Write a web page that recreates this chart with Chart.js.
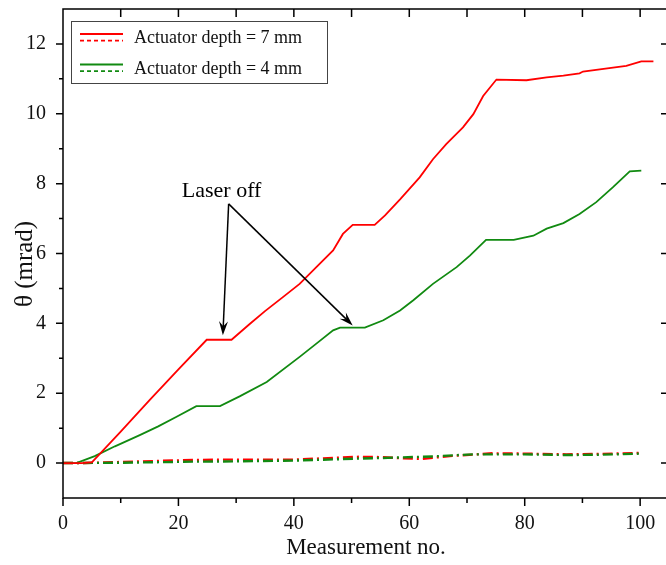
<!DOCTYPE html>
<html>
<head>
<meta charset="utf-8">
<script src="https://cdn.jsdelivr.net/npm/chart.js@4.4.0/dist/chart.umd.min.js"></script>
<style>
  html, body { margin: 0; padding: 0; background: #fff; overflow: hidden; }
  #wrap { width: 672px; height: 565px; }
</style>
</head>
<body>
<div id="wrap"><canvas id="thetaChart" width="672" height="565"></canvas></div>
<script>
// depth = 7 mm, solid
const redX = [0, 3.2, 5, 10, 15, 20, 24.9, 29.2, 32.4, 35, 38.1, 41, 43.9, 46.8, 48.5, 50.2, 54, 55.8, 58.4, 61.8, 64.1, 66.4, 69.3, 71.1, 72.8, 75.1, 80.3, 83.8, 86.7, 89.5, 90.1, 95.3, 97.6, 100.2, 102.3];
const redY = [0, 0, 0.02, 0.9, 1.8, 2.68, 3.53, 3.53, 3.99, 4.35, 4.75, 5.13, 5.61, 6.09, 6.56, 6.82, 6.82, 7.09, 7.55, 8.18, 8.7, 9.13, 9.61, 9.99, 10.51, 10.98, 10.96, 11.04, 11.09, 11.16, 11.21, 11.32, 11.37, 11.5, 11.5];
// depth = 4 mm, solid
const greenX = [0, 2.3, 5.5, 9, 13.3, 16.5, 19.6, 23.1, 27.2, 30.6, 35.3, 41, 43.9, 46.8, 48, 52.3, 55.5, 58.4, 60.7, 64.1, 68.2, 70.5, 73.3, 78.1, 81.5, 83.8, 86.7, 89.5, 92.4, 95.3, 98.2, 100.2];
const greenY = [0, 0, 0.2, 0.48, 0.8, 1.05, 1.32, 1.63, 1.63, 1.91, 2.32, 3.04, 3.42, 3.8, 3.88, 3.88, 4.09, 4.37, 4.66, 5.13, 5.61, 5.94, 6.39, 6.39, 6.51, 6.71, 6.87, 7.13, 7.47, 7.9, 8.35, 8.37];
// dash-dot series
const redRefX = [0, 3.2, 10, 22.5, 29.5, 40, 51.4, 55, 58.4, 62.3, 67, 74.5, 80, 87.2, 93, 100];
const redRefY = [0, 0, 0.03, 0.09, 0.1, 0.1, 0.18, 0.17, 0.14, 0.12, 0.2, 0.28, 0.27, 0.25, 0.26, 0.29];
const greenRefX = [0, 10, 22.5, 30, 39.9, 51.4, 58.4, 64, 71, 80, 87.2, 93, 100];
const greenRefY = [0, 0.01, 0.04, 0.05, 0.07, 0.13, 0.16, 0.19, 0.25, 0.25, 0.23, 0.24, 0.27];

const seriesLabels = ['Actuator depth = 7 mm', 'Actuator depth = 4 mm'];
const xTicks = [0, 20, 40, 60, 80, 100];
const yTicks = [0, 2, 4, 6, 8, 10, 12];
const xTitle = 'Measurement no.';
const yTitle = 'θ (mrad)';

// annotation: text anchor, arrow start and tips (data units)
const noteText = 'Laser off';
const noteAt = { x: 28.7, y: 7.42 };
const noteTips = [{ x: 27.7, y: 3.66 }, { x: 50.2, y: 3.94 }];

const RED = '#ff0000';
const GREEN = '#118a11';
const SERIF = "'Liberation Serif', 'Times New Roman', serif";

Chart.defaults.font.family = SERIF;
Chart.defaults.color = '#111';

function pts(xs, ys) {
    return xs.map((x, i) => ({ x: x, y: ys[i] }));
}

function drawArrow(ctx, x0, y0, x1, y1) {
    const a = Math.atan2(y1 - y0, x1 - x0);
    const c = Math.cos(a), s = Math.sin(a);
    ctx.beginPath();
    ctx.moveTo(x0, y0);
    ctx.lineTo(x1 - 8 * c, y1 - 8 * s);
    ctx.stroke();
    ctx.beginPath();
    ctx.moveTo(x1, y1);
    ctx.lineTo(x1 - 14 * c + 4.5 * s, y1 - 14 * s - 4.5 * c);
    ctx.lineTo(x1 - 9 * c, y1 - 9 * s);
    ctx.lineTo(x1 - 14 * c - 4.5 * s, y1 - 14 * s + 4.5 * c);
    ctx.closePath();
    ctx.fill();
}

const framePlugin = {
    id: 'frame',
    afterDraw(chart) {
        const ctx = chart.ctx;
        const a = chart.chartArea;
        const xs = chart.scales.x, ys = chart.scales.y;
        ctx.save();
        ctx.strokeStyle = '#000';
        ctx.fillStyle = '#000';
        ctx.lineWidth = 1.5;
        ctx.strokeRect(a.left, a.top, a.right - a.left, a.bottom - a.top);

        ctx.beginPath();
        for (let v = 0; v <= 100; v += 10) {
            const px = xs.getPixelForValue(v);
            const major = v % 20 === 0;
            ctx.moveTo(px, a.bottom);
            ctx.lineTo(px, a.bottom + (major ? 8 : 5));
            if (v > 0) {
                ctx.moveTo(px, a.top);
                ctx.lineTo(px, a.top + 8);
            }
        }
        for (let v = 0; v <= 12; v += 1) {
            const py = ys.getPixelForValue(v);
            const major = v % 2 === 0;
            ctx.moveTo(a.left, py);
            ctx.lineTo(a.left - (major ? 7 : 4), py);
            ctx.moveTo(a.right, py);
            ctx.lineTo(a.right - (major ? 8 : 3), py);
        }
        ctx.stroke();

        // y axis title
        ctx.save();
        ctx.translate(25, ys.getPixelForValue(5.7));
        ctx.rotate(-Math.PI / 2);
        ctx.font = '25px ' + SERIF;
        ctx.fillStyle = '#111';
        ctx.textAlign = 'center';
        ctx.textBaseline = 'middle';
        ctx.fillText(yTitle, 0, 0);
        ctx.restore();

        // annotation
        ctx.lineWidth = 1.5;
        const ox = xs.getPixelForValue(noteAt.x), oy = ys.getPixelForValue(noteAt.y);
        noteTips.forEach(t => drawArrow(ctx, ox, oy, xs.getPixelForValue(t.x), ys.getPixelForValue(t.y)));
        ctx.font = '22px ' + SERIF;
        ctx.textAlign = 'center';
        ctx.textBaseline = 'alphabetic';
        ctx.fillText(noteText, ox - 7, oy - 7);

        // legend
        const lx = 71.5, ly = 21.5, lw = 256, lh = 62;
        ctx.fillStyle = '#fff';
        ctx.fillRect(lx, ly, lw, lh);
        ctx.strokeStyle = '#444';
        ctx.lineWidth = 1;
        ctx.strokeRect(lx, ly, lw, lh);
        const colors = [RED, GREEN];
        seriesLabels.forEach((lab, i) => {
            const cy = 37.5 + i * 30.5;
            ctx.strokeStyle = colors[i];
            ctx.lineWidth = 1.8;
            ctx.setLineDash([]);
            ctx.beginPath();
            ctx.moveTo(80, cy - 3.5);
            ctx.lineTo(123, cy - 3.5);
            ctx.stroke();
            ctx.setLineDash([4, 3]);
            ctx.beginPath();
            ctx.moveTo(80, cy + 3.2);
            ctx.lineTo(123, cy + 3.2);
            ctx.stroke();
            ctx.setLineDash([]);
            ctx.fillStyle = '#111';
            ctx.font = '18px ' + SERIF;
            ctx.textAlign = 'left';
            ctx.textBaseline = 'middle';
            ctx.fillText(lab, 134, cy + 1);
        });
        ctx.restore();
    }
};

const ctx = document.getElementById('thetaChart').getContext('2d');
const chart = new Chart(ctx, {
    type: 'line',
    data: {
        datasets: [
            { label: seriesLabels[0], data: pts(redX, redY), borderColor: RED, borderWidth: 1.8 },
            { label: seriesLabels[1], data: pts(greenX, greenY), borderColor: GREEN, borderWidth: 1.8 },
            { label: seriesLabels[1] + ' ref', data: pts(greenRefX, greenRefY), borderColor: GREEN, borderWidth: 2.4, borderDash: [10, 4, 2, 4] },
            { label: seriesLabels[0] + ' ref', data: pts(redRefX, redRefY), borderColor: RED, borderWidth: 2.4, borderDash: [10, 4, 2, 4] }
        ]
    },
    options: {
        responsive: false,
        devicePixelRatio: 1,
        animation: false,
        elements: {
            line: { tension: 0, fill: false },
            point: { radius: 0, hoverRadius: 0 }
        },
        layout: { padding: { top: 0, right: 3, left: 0, bottom: 0 } },
        plugins: {
            legend: { display: false },
            tooltip: { enabled: false }
        },
        scales: {
            x: {
                type: 'linear',
                min: 0,
                max: 105,
                afterBuildTicks: s => { s.ticks = xTicks.map(v => ({ value: v })); },
                afterFit: s => { s.height = 67; },
                ticks: { font: { size: 20 }, color: '#111', padding: 6, maxRotation: 0 },
                grid: { display: false },
                border: { display: false },
                title: { display: true, text: xTitle, font: { size: 23 }, color: '#111', padding: { top: 0, bottom: 3 } }
            },
            y: {
                min: -1,
                max: 13,
                afterBuildTicks: s => { s.ticks = yTicks.map(v => ({ value: v })); },
                afterFit: s => { s.width = 63; },
                ticks: { font: { size: 20, lineHeight: 0.9 }, color: '#111', padding: 0 },
                grid: { display: false, tickLength: 17 },
                border: { display: false }
            }
        }
    },
    plugins: [framePlugin]
});
</script>
</body>
</html>
